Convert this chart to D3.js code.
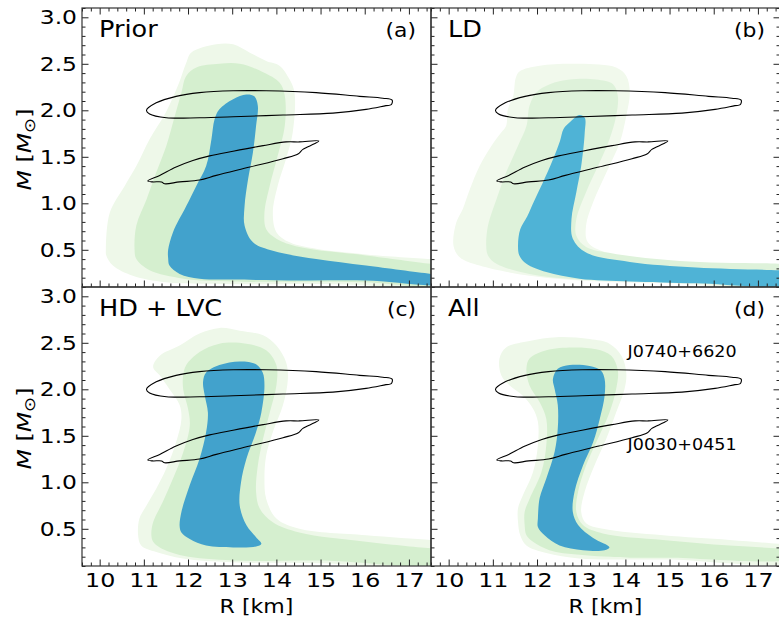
<!DOCTYPE html>
<html><head><meta charset="utf-8">
<script src="https://cdn.jsdelivr.net/npm/d3@7"></script>
<style>body{margin:0;background:#fff}svg{display:block;font-family:"DejaVu Sans",sans-serif}</style>
</head><body><svg id="c" width="779" height="619"></svg>
<script>
// ---- data (R [km], M [Msun]) ----
const xTicks=[10,11,12,13,14,15,16,17];
const yTicks=[0.5,1.0,1.5,2.0,2.5,3.0];
const panelTitles=["Prior","LD","HD + LVC","All"];
const panelTags=["(a)","(b)","(c)","(d)"];
const pulsarNames=["J0740+6620","J0030+0451"];
const j0740=[[11.06,2.0],[11.28,2.08],[11.73,2.15],[12.26,2.19],[13.02,2.21],[13.77,2.21],[14.9,2.19],[15.88,2.15],[16.41,2.13],[16.62,2.11],[16.6,2.06],[16.48,2.05],[16.03,2.01],[15.28,1.97],[14.15,1.95],[13.02,1.93],[12.26,1.92],[11.51,1.92],[11.13,1.96]];
const j0030=[[11.09,1.24],[11.36,1.3],[11.73,1.39],[12.11,1.46],[12.49,1.51],[13.02,1.56],[13.7,1.62],[14.22,1.66],[14.52,1.66],[14.96,1.67],[14.86,1.64],[14.6,1.58],[14.49,1.53],[14.15,1.48],[13.4,1.39],[12.64,1.3],[12.26,1.25],[11.81,1.23],[11.47,1.21],[11.4,1.23],[11.2,1.23]];
const priorOuter=[[10.14,0.5],[10.23,0.9],[10.57,1.19],[10.83,1.4],[11.13,1.69],[11.5,1.98],[11.8,2.3],[11.96,2.51],[12.07,2.62],[12.64,2.71],[13.02,2.71],[13.4,2.62],[13.77,2.53],[14.07,2.48],[14.3,2.33],[14.41,2.19],[14.37,1.76],[14.22,1.48],[14.03,1.19],[13.92,0.9],[14.0,0.69],[14.3,0.58],[14.9,0.51],[16.03,0.45],[17.5,0.4],[17.9,0.39],[17.9,0.1],[16.0,0.12],[15.28,0.13],[13.0,0.13],[11.5,0.15],[10.75,0.22],[10.3,0.33],[10.15,0.44]];
const priorMid=[[10.79,0.5],[10.83,0.76],[11.06,1.04],[11.28,1.33],[11.51,1.62],[11.7,1.94],[11.85,2.19],[11.96,2.37],[12.19,2.46],[12.71,2.5],[13.17,2.5],[13.7,2.41],[14.07,2.3],[14.19,2.16],[14.19,1.83],[14.03,1.51],[13.85,1.19],[13.73,0.9],[13.77,0.72],[14.0,0.62],[14.52,0.53],[16.03,0.44],[17.5,0.35],[17.9,0.33],[17.9,0.13],[16.0,0.15],[13.0,0.16],[11.9,0.19],[11.13,0.28],[10.83,0.4]];
const priorInner=[[11.55,0.5],[11.66,0.69],[11.96,0.97],[12.19,1.19],[12.41,1.4],[12.53,1.69],[12.6,1.9],[12.71,2.01],[13.02,2.12],[13.32,2.17],[13.5,2.15],[13.58,2.05],[13.54,1.83],[13.47,1.55],[13.36,1.26],[13.28,0.97],[13.28,0.76],[13.47,0.58],[13.92,0.49],[14.9,0.4],[16.03,0.33],[17.5,0.24],[17.9,0.22],[17.9,0.14],[16.03,0.17],[14.52,0.17],[13.02,0.18],[12.26,0.19],[11.81,0.24],[11.58,0.33],[11.55,0.41]];
const ldOuter=[[10.11,0.54],[10.17,0.79],[10.32,0.94],[10.48,1.15],[10.7,1.4],[10.97,1.62],[11.19,1.76],[11.3,1.83],[11.34,2.01],[11.46,2.15],[11.52,2.35],[11.61,2.42],[12.06,2.48],[12.96,2.5],[13.79,2.46],[14.02,2.37],[14.1,2.19],[14.02,1.94],[13.87,1.65],[13.57,1.33],[13.27,1.01],[13.11,0.76],[13.15,0.58],[13.57,0.47],[14.85,0.38],[16.36,0.35],[17.47,0.33],[17.9,0.32],[17.9,0.12],[15.0,0.14],[12.96,0.17],[11.83,0.22],[10.7,0.33],[10.25,0.42]];
const ldMid=[[10.85,0.54],[10.89,0.76],[11.08,1.04],[11.3,1.33],[11.57,1.62],[11.76,1.83],[11.83,2.05],[11.98,2.19],[12.29,2.28],[12.74,2.33],[13.34,2.33],[13.72,2.28],[13.83,2.15],[13.79,1.94],[13.64,1.69],[13.38,1.4],[13.11,1.12],[12.89,0.83],[12.89,0.65],[13.11,0.53],[13.72,0.46],[15.23,0.38],[17.47,0.35],[17.9,0.34],[17.9,0.14],[15.0,0.16],[12.96,0.18],[11.83,0.24],[11.08,0.35],[10.89,0.44]];
const ldInner=[[11.57,0.55],[11.62,0.72],[11.78,0.86],[11.93,1.02],[12.13,1.22],[12.36,1.47],[12.52,1.67],[12.6,1.8],[12.76,1.88],[12.96,1.95],[13.08,1.92],[13.08,1.76],[13.0,1.4],[12.89,1.12],[12.78,0.83],[12.81,0.62],[13.11,0.47],[14.1,0.37],[15.6,0.31],[17.47,0.28],[17.9,0.27],[17.9,0.14],[15.6,0.14],[14.1,0.16],[12.96,0.19],[12.21,0.26],[11.76,0.35],[11.6,0.44]];
const hdOuter=[[10.87,0.43],[10.9,0.61],[11.06,0.75],[11.28,0.93],[11.51,1.15],[11.73,1.43],[11.85,1.68],[11.81,1.83],[11.58,2.0],[11.36,2.15],[11.21,2.24],[11.36,2.36],[11.81,2.47],[12.26,2.6],[12.72,2.66],[13.17,2.63],[13.7,2.58],[14.0,2.47],[14.22,2.29],[14.26,2.11],[14.15,1.83],[13.92,1.54],[13.77,1.29],[13.73,1.04],[13.77,0.82],[14.0,0.61],[14.52,0.5],[16.03,0.43],[17.5,0.38],[17.9,0.37],[17.9,0.12],[15.0,0.13],[13.0,0.14],[11.89,0.18],[11.28,0.25],[10.94,0.32]];
const hdMid=[[11.17,0.43],[11.21,0.57],[11.43,0.79],[11.66,1.04],[11.89,1.32],[12.04,1.61],[12.0,1.79],[11.89,2.0],[11.89,2.15],[11.96,2.26],[12.26,2.4],[12.71,2.49],[13.32,2.49],[13.77,2.42],[14.0,2.26],[14.0,2.04],[13.85,1.75],[13.7,1.47],[13.58,1.18],[13.54,0.9],[13.62,0.72],[13.92,0.57],[14.52,0.46],[16.03,0.36],[17.5,0.29],[17.9,0.28],[17.9,0.14],[15.0,0.16],[13.02,0.16],[11.89,0.21],[11.36,0.3],[11.21,0.36]];
const hdInner=[[11.81,0.53],[11.85,0.68],[12.04,0.97],[12.26,1.25],[12.41,1.54],[12.45,1.75],[12.38,1.93],[12.34,2.08],[12.41,2.18],[12.71,2.26],[13.17,2.3],[13.54,2.27],[13.69,2.18],[13.73,2.04],[13.66,1.75],[13.54,1.54],[13.32,1.25],[13.2,1.0],[13.17,0.75],[13.32,0.54],[13.54,0.41],[13.66,0.34],[13.54,0.31],[13.02,0.3],[12.41,0.32],[12.04,0.39],[11.85,0.46]];
const allOuter=[[11.57,0.57],[11.57,0.72],[11.68,0.86],[11.91,1.11],[12.02,1.4],[12.02,1.65],[11.91,1.79],[11.68,1.93],[11.38,2.04],[11.19,2.15],[11.15,2.33],[11.3,2.45],[11.83,2.52],[12.44,2.56],[13.19,2.54],[13.64,2.49],[13.91,2.36],[14.02,2.18],[13.98,2.0],[13.79,1.75],[13.57,1.47],[13.3,1.18],[13.08,0.9],[13.0,0.68],[13.11,0.56],[13.49,0.5],[14.85,0.43],[16.36,0.38],[17.47,0.34],[17.9,0.33],[17.9,0.16],[15.0,0.17],[14.1,0.17],[12.96,0.18],[12.21,0.24],[11.76,0.32],[11.62,0.43]];
const allMid=[[11.72,0.54],[11.72,0.68],[11.83,0.82],[12.1,1.11],[12.21,1.4],[12.21,1.68],[12.06,1.86],[11.83,2.04],[11.76,2.22],[11.83,2.33],[12.21,2.42],[12.81,2.45],[13.34,2.43],[13.68,2.36],[13.83,2.2],[13.79,2.0],[13.64,1.75],[13.38,1.47],[13.11,1.18],[12.93,0.9],[12.89,0.68],[13.04,0.54],[13.49,0.45],[14.85,0.38],[16.36,0.32],[17.47,0.29],[17.9,0.28],[17.9,0.19],[15.0,0.19],[14.1,0.19],[12.96,0.22],[12.28,0.27],[11.91,0.36],[11.76,0.43]];
const allInner=[[12.02,0.61],[12.06,0.83],[12.21,1.04],[12.4,1.33],[12.47,1.58],[12.47,1.83],[12.4,2.0],[12.36,2.11],[12.47,2.22],[12.74,2.26],[13.19,2.25],[13.45,2.2],[13.53,2.11],[13.53,1.93],[13.42,1.68],[13.27,1.43],[13.04,1.18],[12.85,0.9],[12.81,0.68],[12.93,0.54],[13.27,0.4],[13.64,0.3],[13.53,0.27],[13.04,0.27],[12.51,0.32],[12.17,0.43],[12.02,0.52]];
const panelRegions=[[priorOuter,priorMid,priorInner],[ldOuter,ldMid,ldInner],[hdOuter,hdMid,hdInner],[allOuter,allMid,allInner]];
const fillsDefault=["#eef8e9","#d5efcf","#42a2cc"];
const fillsLD=["#f1f9ec","#def2da","#4fb3d6"];

// ---- layout ----
const svg=d3.select("#c");
const PL=82, PT=8, PW=349, PH=279;
const xDomain=[9.6,17.5], yDomain=[0.1,3.1];
const defs=svg.append("defs");
function stretch(sel,f){sel.each(function(){const L=this.getComputedTextLength();if(L>0){this.setAttribute("textLength",L*f);this.setAttribute("lengthAdjust","spacingAndGlyphs");}});}

panelRegions.forEach((regs,i)=>{
  const col=i%2,row=Math.floor(i/2);
  const x0=PL+col*PW, y0=PT+row*PH;
  const x=d3.scaleLinear().domain(xDomain).range([x0,x0+PW]);
  const y=d3.scaleLinear().domain(yDomain).range([y0+PH,y0]);
  defs.append("clipPath").attr("id","clip"+i).append("rect").attr("x",x0).attr("y",y0).attr("width",PW).attr("height",PH);
  const g=svg.append("g");
  const area=g.append("g").attr("clip-path","url(#clip"+i+")");
  const line=d3.line().x(d=>x(d[0])).y(d=>y(d[1])).curve(d3.curveCatmullRomClosed.alpha(0.5));
  const fills=i===1?fillsLD:fillsDefault;
  regs.forEach((r,k)=>area.append("path").attr("d",line(r)).attr("fill",fills[k]));
  [j0740,j0030].forEach(c=>area.append("path").attr("d",line(c)).attr("fill","none").attr("stroke","#000").attr("stroke-width",1.1));
  // axes
  const minorX=d3.range(9.6,17.51,0.2).map(v=>+v.toFixed(1)).filter(v=>!xTicks.includes(v));
  const minorY=d3.range(0.1,3.101,0.1).map(v=>+v.toFixed(1)).filter(v=>!yTicks.includes(v));
  const style=a=>{a.select(".domain").remove();a.selectAll("line").attr("stroke","#222").attr("stroke-width",1);a.selectAll("text").attr("fill","#000").attr("font-size",19.5).attr("font-family","DejaVu Sans");};
  // bottom
  const bx=g.append("g").attr("transform",`translate(0,${y0+PH})`).call(d3.axisBottom(x).tickValues(xTicks).tickSize(-6.5).tickPadding(7.5).tickFormat(row===1?d3.format("d"):"")).call(style);
  g.append("g").attr("transform",`translate(0,${y0+PH})`).call(d3.axisBottom(x).tickValues(minorX).tickSize(-3.5).tickFormat("")).call(style);
  // left
  const ly=g.append("g").attr("transform",`translate(${x0},0)`).call(d3.axisLeft(y).tickValues(yTicks).tickSize(-6.5).tickPadding(5).tickFormat(col===0?d3.format(".1f"):"")).call(style);
  g.append("g").attr("transform",`translate(${x0},0)`).call(d3.axisLeft(y).tickValues(minorY).tickSize(-3.5).tickFormat("")).call(style);
  stretch(bx.selectAll("text"),1.22);
  stretch(ly.selectAll("text"),1.2);
  if(row===0){
    g.append("g").attr("transform",`translate(0,${y0})`).call(d3.axisTop(x).tickValues(xTicks).tickSize(-6.5).tickFormat("")).call(style);
    g.append("g").attr("transform",`translate(0,${y0})`).call(d3.axisTop(x).tickValues(minorX).tickSize(-3.5).tickFormat("")).call(style);
  }
  if(col===1){
    g.append("g").attr("transform",`translate(${x0+PW},0)`).call(d3.axisRight(y).tickValues(yTicks).tickSize(-6.5).tickFormat("")).call(style);
    g.append("g").attr("transform",`translate(${x0+PW},0)`).call(d3.axisRight(y).tickValues(minorY).tickSize(-3.5).tickFormat("")).call(style);
  }
  g.append("rect").attr("x",x0).attr("y",y0).attr("width",PW).attr("height",PH).attr("fill","none").attr("stroke","#333").attr("stroke-width",1.2);
  stretch(g.append("text").attr("x",x0+17).attr("y",y0+29).attr("font-size",23).text(panelTitles[i]),1.11);
  stretch(g.append("text").attr("x",x0+PW-15).attr("y",y0+29).attr("font-size",19.5).attr("text-anchor","end").text(panelTags[i]),1.12);
  if(row===1){
    stretch(g.append("text").attr("x",x0+PW/2).attr("y",y0+PH+47).attr("text-anchor","middle").attr("font-size",19.5).text("R [km]"),1.13);
  }
  if(col===0){
    const t=g.append("text").attr("transform",`translate(31,${y0+PH/2+2}) rotate(-90)`).attr("text-anchor","middle").attr("font-size",19.5);
    t.append("tspan").attr("font-style","italic").text("M");
    t.append("tspan").text(" [");
    t.append("tspan").attr("font-style","italic").text("M");
    t.append("tspan").attr("font-size",15).attr("dy",4).text("⊙");
    t.append("tspan").attr("dy",-4).text("]");
    t.attr("textLength",82).attr("lengthAdjust","spacingAndGlyphs");
  }
  if(i===3){
    [[pulsarNames[0],2.35],[pulsarNames[1],1.35]].forEach(([nm,m])=>{
      const t=g.append("text").attr("x",x(14.05)).attr("y",y(m)).attr("font-size",16.5).text(nm);
      t.attr("textLength",109).attr("lengthAdjust","spacingAndGlyphs");
    });
  }
});
</script></body></html>
